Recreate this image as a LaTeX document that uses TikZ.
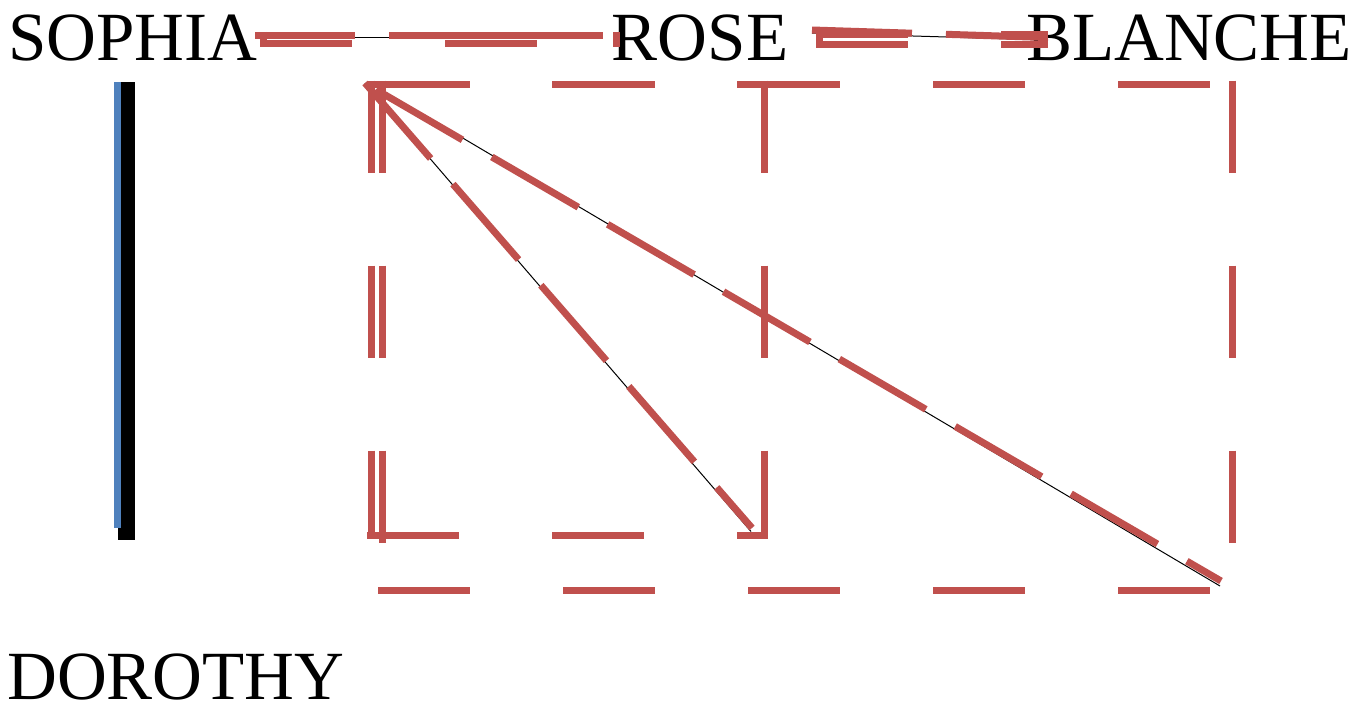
\documentclass[tikz,border=0pt]{standalone}
\usepackage{fontspec}
\setmainfont{Liberation Serif}
\definecolor{redc}{HTML}{C0504D}
\definecolor{bluec}{HTML}{4F81BD}
\tikzset{
  lbl/.style={inner sep=0pt, anchor=base, font=\fontsize{69pt}{80pt}\selectfont},
  thinedge/.style={draw=black, line width=1pt},
  reddash/.style={draw=redc, line width=7pt, dash pattern=on 100pt off 34pt},
  boxdash/.style={draw=redc, line width=7pt, dash pattern=on 92pt off 93pt},
  thickbar/.style={draw=black, line width=17pt},
  bluebar/.style={draw=bluec, line width=6.5pt},
}
\begin{document}
\begin{tikzpicture}[x=1pt,y=-1pt]
\useasboundingbox (0,0) rectangle (1366,702);
% labels
\node[lbl] (sophia)  at (133,60)  {SOPHIA};
\node[lbl] (rose)    at (700,60)  {ROSE};
\node[lbl] (blanche) at (1189,60) {BLANCHE};
\node[lbl] (dorothy) at (176,699) {DOROTHY};
% named end points
\coordinate (srA) at (255,37.3);  \coordinate (srB) at (603,37.3);
\coordinate (srRA) at (255,35.3); \coordinate (srRB) at (603,35.3);
\coordinate (rbA) at (812,33);    \coordinate (rbB) at (1048,40);
\coordinate (rbRA) at (812,30);   \coordinate (rbRB) at (1046,37.5);
\coordinate (dA) at (365,83);
\coordinate (d1B) at (751,531.5); \coordinate (d1R) at (752,528);
\coordinate (d2A) at (376.5,87);  \coordinate (d2B) at (1220,586);
\coordinate (d2RA) at (376,89.6); \coordinate (d2RB) at (1221,581);
\coordinate (vTop) at (126.5,82); \coordinate (vBot) at (126.5,540);
\coordinate (bTop) at (117.5,82); \coordinate (bBot) at (117.5,527.7);
\coordinate (tTop) at (118,82);   \coordinate (tBot) at (118,532);
% vertical connector SOPHIA - DOROTHY
\draw[thickbar] (vTop) -- (vBot);
\draw[thinedge] (tTop) -- (tBot);
\draw[bluebar] (bTop) -- (bBot);
% thin black connectors
\draw[thinedge] (srA) -- (srB);
\draw[thinedge] (rbA) -- (rbB);
\draw[thinedge] (dA) -- (d1B);
\draw[thinedge] (d2A) -- (d2B);
% red dashed connectors
\draw[reddash] (srRA) -- (srRB);
\draw[reddash] (rbRA) -- (rbRB);
\draw[reddash] (dA) -- (d1R);
\draw[reddash] (d2RA) -- (d2RB);
% dashed boxes (each side drawn separately)
% box SOPHIA-ROSE
\draw[boxdash] (260,35.3) -- (620,35.3);
\draw[boxdash] (260,43.5) -- (620,43.5);
\draw[boxdash] (263.5,31.8) -- (263.5,47);
\draw[boxdash] (616.5,31.8) -- (616.5,47);
% box ROSE-BLANCHE
\draw[boxdash] (816,34.8) -- (1048,34.8);
\draw[boxdash] (816,44) -- (1048,44);
\draw[boxdash] (819.5,31.3) -- (819.5,47.5);
\draw[boxdash] (1044.5,31.3) -- (1044.5,47.5);
% box 1
\draw[boxdash] (367,84) -- (768,84);
\draw[boxdash] (367,535.5) -- (768,535.5);
\draw[boxdash] (371,80.5) -- (371,539);
\draw[boxdash] (764,80.5) -- (764,539);
% box 2
\draw[boxdash] (378,84) -- (1236.5,84);
\draw[boxdash] (378,590.5) -- (1236.5,590.5);
\draw[boxdash] (382,80.5) -- (382,594);
\draw[boxdash] (1232,80.5) -- (1232,594);
\end{tikzpicture}
\end{document}
